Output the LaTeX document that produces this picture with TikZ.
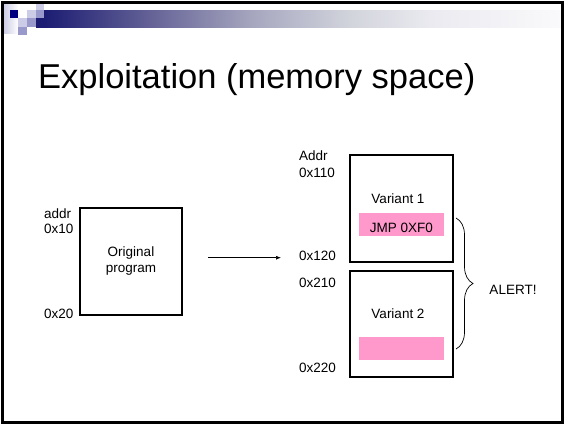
\documentclass[tikz,border=0pt]{standalone}
\usepackage{fontspec}
\setmainfont{Liberation Sans}
\usetikzlibrary{arrows.meta,decorations.pathreplacing}

\definecolor{navy}{RGB}{0,0,128}
\definecolor{lavmid}{RGB}{153,153,204}
\definecolor{lavlight}{RGB}{204,204,230}
\definecolor{memhl}{RGB}{255,153,204}
\definecolor{barA}{RGB}{28,28,115}
\definecolor{barB}{RGB}{100,98,150}
\definecolor{barC}{RGB}{165,165,190}
\definecolor{barD}{RGB}{210,212,220}
\definecolor{barE}{RGB}{234,234,240}
\definecolor{barF}{RGB}{250,250,252}

\begin{document}
\begin{tikzpicture}[x=1pt,y=-1pt,
  membox/.style={draw, line width=1.8pt, inner sep=0pt},
  hlbox/.style={fill=memhl, inner sep=0pt, minimum width=85pt, minimum height=23.3pt},
  lbl/.style={font=\fontsize{13.5}{16}\selectfont, inner sep=0pt, anchor=base west},
  txt/.style={font=\fontsize{13.5}{16}\selectfont, inner sep=0pt},
  flow/.style={line width=0.7pt, -{Latex[length=5pt,width=4pt]}}]

\useasboundingbox (0,0) rectangle (564,424);

% header ornament: squares and fading bar
\shade[left color=lavlight, right color=white] (4,4) rectangle (18,33);
\fill[navy] (10,10) rectangle (18,18);
\fill[lavlight] (36,4) rectangle (44,10);
\fill[lavlight] (27,10) rectangle (36,18);
\fill[lavmid] (36,10) rectangle (44,18);
\fill[lavlight] (18,18) rectangle (27,27);
\fill[lavmid] (27,18) rectangle (36,27);
\fill[lavmid] (18,27) rectangle (27,35);
\fill[barA] (36,18) rectangle (44.5,27.5);
\shade[left color=barA, right color=barB] (44,10) rectangle (150.5,27.5);
\shade[left color=barB, right color=barC] (150,10) rectangle (250.5,27.5);
\shade[left color=barC, right color=barD] (250,10) rectangle (350.5,27.5);
\shade[left color=barD, right color=barE] (350,10) rectangle (430.5,27.5);
\shade[left color=barE, right color=barF] (430,10) rectangle (562,27.5);

% slide frame
\draw[line width=3pt] (2.5,2.5) rectangle (562.5,422);

% title
\node[font=\fontsize{34.5}{40}\selectfont, inner sep=0pt, anchor=base west]
  (title) at (38,88) {Exploitation (memory space)};

% original program
\node[membox, minimum width=102pt, minimum height=107pt, align=center,
  font=\fontsize{13.5}{16}\selectfont] (orig) at (131,261.5) {Original\\program};
\node[lbl] (addrA) at (44,218) {addr};
\node[lbl] (oxA) at (44,233) {0x10};
\node[lbl] (oxB) at (44,318) {0x20};

% copy arrow
\coordinate (arrS) at (208,257.7);
\coordinate (arrE) at (281,257.7);
\draw[flow] (arrS) -- (arrE);

% variant boxes
\node[membox, minimum width=103pt, minimum height=107pt] (var1) at (401.5,208.5) {};
\node[membox, minimum width=103pt, minimum height=106pt] (var2) at (401.5,324) {};
\node[txt, anchor=base] (v1t) at (398,203) {Variant 1};
\node[txt, anchor=base] (v2t) at (398,318) {Variant 2};
\node[hlbox] (hl1) at (401.5,224.4) {};
\node[hlbox] (hl2) at (401.5,348.4) {};
\node[txt, anchor=base] (jmp) at (401.5,232.7) {JMP 0XF0};

% address labels
\node[lbl] (addrB) at (299,160) {Addr};
\node[lbl] (oxC) at (299,177) {0x110};
\node[lbl] (oxD) at (299,260) {0x120};
\node[lbl] (oxE) at (299,287) {0x210};
\node[lbl] (oxF) at (299,372) {0x220};

% alert brace
\coordinate (brT) at (456,218);
\coordinate (brB) at (456,349);
\draw[line width=0.7pt, decorate, decoration={brace, amplitude=17pt}] (brT) -- (brB);
\node[txt, anchor=base] (alert) at (513,294) {ALERT!};

\end{tikzpicture}
\end{document}
